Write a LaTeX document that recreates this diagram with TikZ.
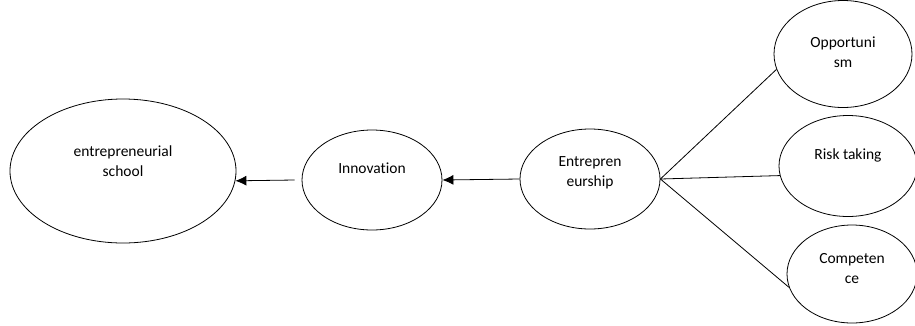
\documentclass[tikz,border=0pt]{standalone}
\usepackage{fontspec}
\setmainfont{Carlito}[Ligatures=NoCommon]
\usetikzlibrary{shapes.geometric, arrows.meta}

\tikzset{
  bubble/.style={ellipse, draw, line width=0.8pt, inner sep=0pt},
  txt/.style={align=center, font=\fontsize{15.5}{20}\selectfont},
  link/.style={line width=0.8pt},
  flow/.style={line width=0.8pt, -{Latex[length=11pt,width=10pt]}}
}

\begin{document}
\begin{tikzpicture}[x=1pt, y=-1pt]
\useasboundingbox (0,0) rectangle (915,325);
% main chain
\node[bubble, minimum width=226pt, minimum height=144pt,
  label={[txt, yshift=10pt]center:entrepreneurial\\school}] (school) at (123,171) {};
\node[bubble, minimum width=140pt, minimum height=100pt,
  label={[txt, yshift=12pt]center:Innovation}] (inno) at (372,180) {};
\node[bubble, minimum width=140pt, minimum height=100pt,
  label={[txt, yshift=6pt]center:Entrepren\\eurship}] (entre) at (590,179) {};
% components
\node[bubble, minimum width=138pt, minimum height=107pt,
  label={[txt, yshift=2pt]center:Opportuni\\sm}] (opp) at (843,54) {};
\node[bubble, minimum width=138pt, minimum height=101pt,
  label={[txt, yshift=11pt]center:Risk taking}] (risk) at (848,166) {};
\node[bubble, minimum width=130pt, minimum height=98pt,
  label={[txt, yshift=5pt]center:Competen\\ce}] (comp) at (852,274) {};

\draw[flow] ([xshift=-7pt]inno.west) -- (school.-5);
\draw[flow] (entre.west) -- (inno.east);
\draw[link] (entre.east) -- (opp.193);
\draw[link] (entre.east) -- (risk.188);
\draw[link] (entre.east) -- (comp.192);
\end{tikzpicture}
\end{document}
